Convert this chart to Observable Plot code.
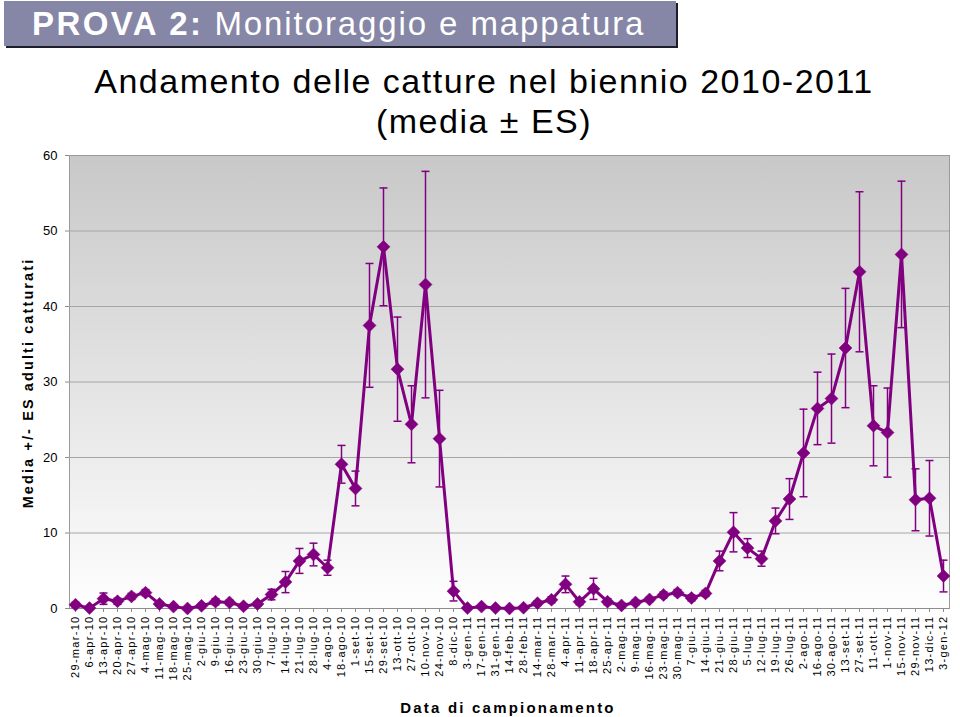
<!DOCTYPE html>
<html>
<head>
<meta charset="utf-8">
<script src="https://cdn.jsdelivr.net/npm/d3@7"></script>
<script src="https://cdn.jsdelivr.net/npm/@observablehq/plot@0.6"></script>
<style>
  html, body { margin: 0; padding: 0; background: #fff; }
  #wrap { position: relative; width: 960px; height: 717px; overflow: hidden; font-family: "Liberation Sans", Arial, sans-serif; }
  #box { position: absolute; left: 4px; top: 1px; width: 672px; height: 45px; background: #8686a6;
         box-shadow: 2px 2px 0 #1e1e2a; color: #fff; font-size: 33px; letter-spacing: 1.9px; line-height: 46px;
         padding-left: 28px; box-sizing: border-box; white-space: nowrap; }
  #box b { font-weight: bold; letter-spacing: 2.4px; }
  #title { position: absolute; left: 0; width: 968px; top: 61px; text-align: center; font-size: 34px;
           letter-spacing: 1.5px; line-height: 40px; color: #000; }
  #ylab { position: absolute; left: 28px; top: 383px; transform: translate(-50%, -50%) rotate(-90deg);
          font-weight: bold; font-size: 14.5px; letter-spacing: 2.1px; white-space: nowrap; }
  #xlab { position: absolute; left: 508px; top: 699px; transform: translateX(-50%);
          font-weight: bold; font-size: 15px; letter-spacing: 2.2px; white-space: nowrap; }
  #chart { position: absolute; left: 0; top: 0; }
  g[aria-label="x-axis tick label"] text { letter-spacing: 1.3px; }
</style>
</head>
<body>
<div id="wrap">
  <div id="chart"></div>
  <div id="box"><b>PROVA 2:</b> Monitoraggio e mappatura</div>
  <div id="title">Andamento delle catture nel biennio 2010-2011<br>(media ± ES)</div>
  <div id="ylab">Media +/- ES adulti catturati</div>
  <div id="xlab">Data di campionamento</div>
</div>
<script>
const dates = [
  "29-mar-10","6-apr-10","13-apr-10","20-apr-10","27-apr-10","4-mag-10","11-mag-10","18-mag-10","25-mag-10",
  "2-giu-10","9-giu-10","16-giu-10","23-giu-10","30-giu-10","7-lug-10","14-lug-10","21-lug-10","28-lug-10",
  "4-ago-10","18-ago-10","1-set-10","15-set-10","29-set-10","13-ott-10","27-ott-10","10-nov-10","24-nov-10","8-dic-10",
  "3-gen-11","17-gen-11","31-gen-11","14-feb-11","28-feb-11","14-mar-11","28-mar-11","4-apr-11","11-apr-11",
  "18-apr-11","25-apr-11","2-mag-11","9-mag-11","16-mag-11","23-mag-11","30-mag-11","7-giu-11","14-giu-11",
  "21-giu-11","28-giu-11","5-lug-11","12-lug-11","19-lug-11","26-lug-11","2-ago-11","16-ago-11","30-ago-11",
  "13-set-11","27-set-11","11-ott-11","1-nov-11","15-nov-11","29-nov-11","13-dic-11","3-gen-12"
];
const means = [
  0.5, 0.05, 1.3, 0.95, 1.6, 2.1, 0.6, 0.25, 0.0, 0.35, 0.9, 0.8, 0.3, 0.6, 1.85, 3.5, 6.3, 7.15, 5.4,
  19.1, 15.9, 37.5, 47.9, 31.7, 24.4, 42.9, 22.5, 2.3,
  0.05, 0.25, 0.05, 0.0, 0.1, 0.7, 1.15, 3.2, 0.9, 2.6, 0.9, 0.4, 0.8, 1.2, 1.8, 2.1, 1.4, 2.0,
  6.3, 10.1, 8.0, 6.6, 11.6, 14.5, 20.6, 26.5, 27.8, 34.5, 44.6, 24.2, 23.3, 46.9, 14.4, 14.6, 4.3
];
const errors = [
  0.3, 0.2, 0.75, 0.4, 0.4, 0.4, 0.3, 0.2, 0.2, 0.3, 0.4, 0.3, 0.3, 0.3, 0.7, 1.4, 1.65, 1.5, 1.0,
  2.5, 2.3, 8.2, 7.8, 6.9, 5.1, 15.0, 6.4, 1.3,
  0.2, 0.2, 0.2, 0.1, 0.2, 0.3, 0.4, 1.1, 0.4, 1.4, 0.4, 0.3, 0.3, 0.3, 0.4, 0.4, 0.4, 0.4,
  1.3, 2.6, 1.25, 1.0, 1.7, 2.7, 5.8, 4.8, 5.9, 7.9, 10.6, 5.3, 5.9, 9.7, 4.1, 5.0, 2.1
];
const yTicks = [0, 10, 20, 30, 40, 50, 60];

const data = dates.map((d, i) => ({date: d, mean: means[i], es: errors[i]}));
const purple = "#800080";

const diamond = {
  draw(ctx, size) {
    const r = Math.sqrt(size / Math.PI);
    ctx.moveTo(0, -r); ctx.lineTo(r, 0); ctx.lineTo(0, r); ctx.lineTo(-r, 0); ctx.closePath();
  }
};
const cap = {
  draw(ctx, size) {
    const r = Math.sqrt(size / Math.PI);
    ctx.moveTo(-r, 0); ctx.lineTo(r, 0);
  }
};
const gradDefs = () => {
  const defs = d3.create("svg:defs");
  const g = defs.append("linearGradient").attr("id", "bggrad")
    .attr("x1", 0).attr("y1", 0).attr("x2", 0).attr("y2", 1);
  g.append("stop").attr("offset", "0%").attr("stop-color", "#c8c8c8");
  g.append("stop").attr("offset", "55%").attr("stop-color", "#e6e6e6");
  g.append("stop").attr("offset", "100%").attr("stop-color", "#fefefe");
  return defs.node();
};

const chart = Plot.plot({
  width: 960,
  height: 717,
  marginTop: 155,
  marginBottom: 109,
  marginLeft: 69,
  marginRight: 11,
  style: {fontFamily: "'Liberation Sans', Arial, sans-serif", background: "transparent"},
  x: {type: "point", domain: dates, padding: 0, label: null},
  y: {domain: [0, 60], label: null},
  marks: [
    gradDefs,
    Plot.frame({fill: "url(#bggrad)", stroke: "#9a9a9a"}),
    Plot.ruleY(yTicks.slice(1, -1), {stroke: "#a6a6a6"}),
    Plot.ruleY([0], {stroke: "#8c8c8c"}),
    Plot.axisY({ticks: yTicks, tickSize: 4, tickPadding: 8, fontSize: 13, stroke: "#8c8c8c", fill: "#000", label: null}),
    Plot.axisX({tickRotate: -90, tickSize: 4, tickPadding: 3, fontSize: 11, stroke: "#8c8c8c", fill: "#000", label: null}),
    Plot.ruleX(data, {x: "date", y1: d => Math.max(0, d.mean - d.es), y2: d => d.mean + d.es, stroke: purple, strokeWidth: 1.5}),
    Plot.dot(data, {x: "date", y: d => d.mean + d.es, symbol: cap, r: 4, stroke: purple, strokeWidth: 1.5, fill: "none"}),
    Plot.dot(data, {x: "date", y: d => Math.max(0, d.mean - d.es), symbol: cap, r: 4, stroke: purple, strokeWidth: 1.5, fill: "none"}),
    Plot.line(data, {x: "date", y: "mean", stroke: purple, strokeWidth: 3}),
    Plot.dot(data, {x: "date", y: "mean", symbol: diamond, r: 6.5, fill: purple, stroke: purple, strokeWidth: 0.5})
  ]
});
document.getElementById("chart").appendChild(chart);
</script>
</body>
</html>
